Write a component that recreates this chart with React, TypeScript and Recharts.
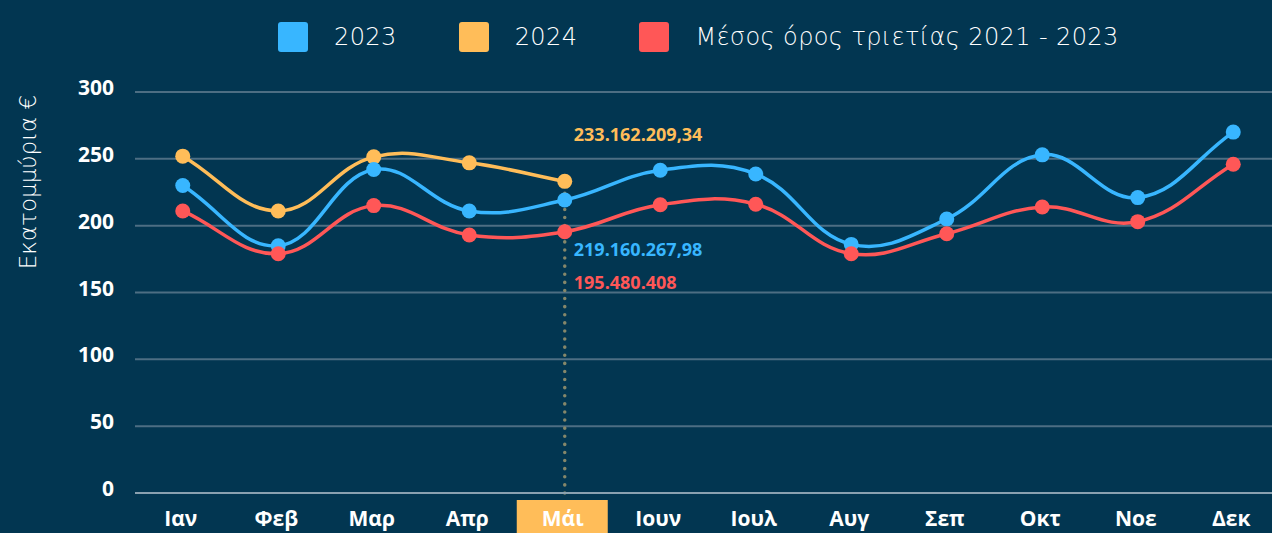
import { LineChart, Line, XAxis, YAxis, CartesianGrid, Legend, LabelList, ReferenceLine } from 'recharts';

const MONTHS = ['Ιαν', 'Φεβ', 'Μαρ', 'Απρ', 'Μάι', 'Ιουν', 'Ιουλ', 'Αυγ', 'Σεπ', 'Οκτ', 'Νοε', 'Δεκ'];
const VALUES_2023 = [230, 185, 242, 211, 219.16, 241.5, 238.7, 186, 205, 253, 221, 270];
const VALUES_2024 = [252, 211, 251.5, 247, 233.16, null, null, null, null, null, null, null];
const VALUES_AVG = [211, 179, 215, 193, 195.48, 215.7, 216, 179, 194, 214, 203, 246];
const Y_TICKS = [0, 50, 100, 150, 200, 250, 300];
const MAY_LABELS = { y2024: '233.162.209,34', y2023: '219.160.267,98', avg: '195.480.408' };
const HIGHLIGHT_MONTH = 'Μάι';

const SERIES = [
  { key: 'y2023', name: '2023', color: '#38b6ff' },
  { key: 'y2024', name: '2024', color: '#ffbd59' },
  { key: 'avg', name: 'Μέσος όρος τριετίας 2021 - 2023', color: '#ff5757' },
];

const BG = '#023651';
const FONT = '"Open Sans", "Noto Sans", sans-serif';
const LIGHT_FONT = '"DejaVu Sans", "Noto Sans", sans-serif';

const data = MONTHS.map((m, i) => ({
  month: m,
  y2023: VALUES_2023[i],
  y2024: VALUES_2024[i],
  avg: VALUES_AVG[i],
}));

// spline like chart.js tension 0.4
const splineCurve = (context: any) => {
  let pts: number[][] = [];
  return {
    areaStart() {},
    areaEnd() {},
    lineStart() { pts = []; },
    point(x: number, y: number) { pts.push([+x, +y]); },
    lineEnd() {
      const n = pts.length;
      if (!n) return;
      context.moveTo(pts[0][0], pts[0][1]);
      if (n === 1) return;
      const t = 0.4;
      const cps = pts.map((p, i) => {
        const prev = pts[i - 1] || p;
        const next = pts[i + 1] || p;
        const d01 = Math.hypot(p[0] - prev[0], p[1] - prev[1]);
        const d12 = Math.hypot(next[0] - p[0], next[1] - p[1]);
        let s01 = d01 / (d01 + d12);
        let s12 = d12 / (d01 + d12);
        if (!isFinite(s01)) s01 = 0;
        if (!isFinite(s12)) s12 = 0;
        const fa = t * s01, fb = t * s12;
        return {
          px: p[0] - fa * (next[0] - prev[0]),
          py: p[1] - fa * (next[1] - prev[1]),
          nx: p[0] + fb * (next[0] - prev[0]),
          ny: p[1] + fb * (next[1] - prev[1]),
        };
      });
      for (let i = 1; i < n; i++) {
        context.bezierCurveTo(cps[i - 1].nx, cps[i - 1].ny, cps[i].px, cps[i].py, pts[i][0], pts[i][1]);
      }
    },
  };
};

const XTick = ({ x, y, payload }: any) => {
  const hl = payload.value === HIGHLIGHT_MONTH;
  return (
    <g>
      {hl && <rect x={x - 48} y={y - 1} width={91} height={40} fill="#ffbd59" />}
      <text x={x - 2} y={y + 25} textAnchor="middle" fill="#ffffff" fontSize={21} fontWeight={700} fontFamily={FONT}>
        {payload.value}
      </text>
    </g>
  );
};

const YTick = ({ x, y, payload }: any) => (
  <text x={x} y={y - 5} textAnchor="end" dominantBaseline="central" fill="#ffffff" fontSize={21} fontWeight={700} fontFamily={FONT}>
    {payload.value}
  </text>
);

const mayLabel = (color: string, dy: number, text: string) => (props: any) => {
  if (props.index !== 4) return null;
  return (
    <text x={props.x + 9} y={props.y + dy} fill={color} fontSize={18} fontWeight={700} fontFamily={FONT} dominantBaseline="central">
      {text}
    </text>
  );
};

const LegendContent = () => (
  <div style={{ display: 'flex', alignItems: 'center', height: 74, paddingLeft: 278, fontFamily: LIGHT_FONT, fontWeight: 200, fontSize: 24, letterSpacing: 0.4, color: '#ffffff' }}>
    {SERIES.map((s) => (
      <div key={s.key} style={{ display: 'flex', alignItems: 'center', marginRight: 62 }}>
        <div style={{ width: 30, height: 30, borderRadius: 3, background: s.color, marginRight: 26 }} />
        <span>{s.name}</span>
      </div>
    ))}
  </div>
);

export default function App() {
  return (
    <div style={{ position: 'fixed', top: 0, left: 0, width: 1272, height: 533, overflow: 'hidden', background: BG }}>
      <LineChart width={1290} height={533} data={data} margin={{ top: 92, right: 9, left: 0, bottom: 0 }}>
        <CartesianGrid vertical={false} stroke="#4d6e83" strokeWidth={2} />
        <XAxis
          dataKey="month"
          height={40}
          padding={{ left: 47.75, right: 47.75 }}
          axisLine={{ stroke: '#8aa1b0', strokeWidth: 2 }}
          tickLine={false}
          tick={<XTick />}
          interval={0}
        />
        <YAxis
          width={135}
          domain={[0, 300]}
          ticks={Y_TICKS}
          axisLine={false}
          tickLine={false}
          tickSize={0}
          tickMargin={21}
          tick={<YTick />}
          label={{
            content: () => (
              <text x={28} y={182} transform="rotate(-90 28 182)" textAnchor="middle" dominantBaseline="central" fill="#ffffff" fontSize={23} fontWeight={200} fontFamily={LIGHT_FONT}>
                Εκατομμύρια €
              </text>
            ),
          }}
        />
        <Legend verticalAlign="middle" align="center" layout="horizontal" wrapperStyle={{ top: 0, left: 0, width: 1272 }} content={<LegendContent />} />
        <ReferenceLine
          segment={[{ x: HIGHLIGHT_MONTH, y: 0 }, { x: HIGHLIGHT_MONTH, y: VALUES_2024[4] as number }]}
          stroke="#85876a"
          strokeWidth={3.5}
          strokeDasharray="0.1 8"
          strokeLinecap="round"
        />
        <Line dataKey="y2024" name="2024" type={splineCurve as any} stroke="#ffbd59" strokeWidth={3.5} dot={{ r: 7.5, fill: '#ffbd59', stroke: 'none' }} activeDot={false} isAnimationActive={false}>
          <LabelList dataKey="y2024" content={mayLabel('#ffbd59', -47, MAY_LABELS.y2024)} />
        </Line>
        <Line dataKey="y2023" name="2023" type={splineCurve as any} stroke="#38b6ff" strokeWidth={3.5} dot={{ r: 7.5, fill: '#38b6ff', stroke: 'none' }} activeDot={false} isAnimationActive={false}>
          <LabelList dataKey="y2023" content={mayLabel('#38b6ff', 49, MAY_LABELS.y2023)} />
        </Line>
        <Line dataKey="avg" name="Μέσος όρος" type={splineCurve as any} stroke="#ff5757" strokeWidth={3.5} dot={{ r: 7.5, fill: '#ff5757', stroke: 'none' }} activeDot={false} isAnimationActive={false}>
          <LabelList dataKey="avg" content={mayLabel('#ff5757', 50, MAY_LABELS.avg)} />
        </Line>
      </LineChart>
    </div>
  );
}
